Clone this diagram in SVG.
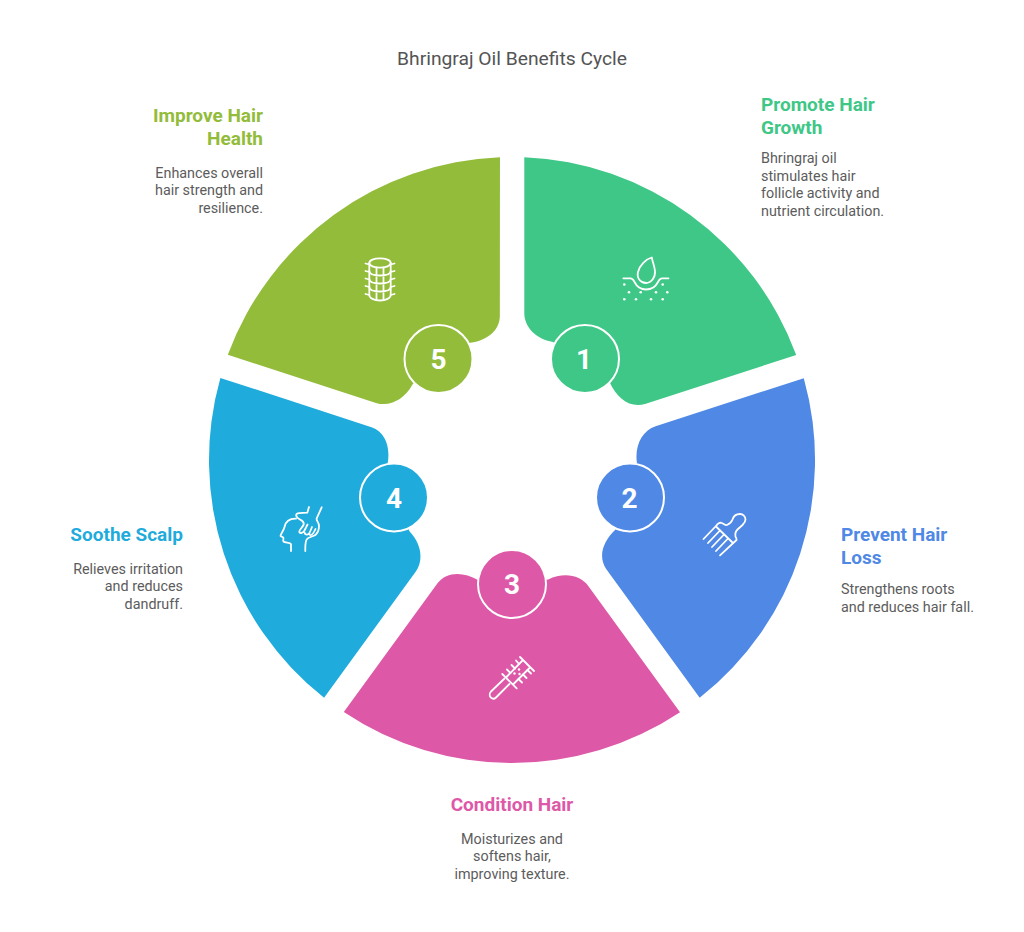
<svg xmlns="http://www.w3.org/2000/svg" width="1024" height="932" viewBox="0 0 1024 932">
<style>
text{font-family:Roboto,"Liberation Sans",sans-serif}
.title{font-size:19.25px;fill:#545454;text-anchor:middle}
.h{font-size:19px;font-weight:700}
.d{font-size:14.35px;fill:#5c5c5c}
.e{text-anchor:end}.m{text-anchor:middle}
.n{font-size:28px;font-weight:700;fill:#fff;text-anchor:middle}
.ic{fill:none;stroke:#fff;stroke-width:1.8;stroke-linecap:round;stroke-linejoin:round}
.dot{fill:#fff}
.ring{stroke:#fff;stroke-width:2}
</style>
<defs>
<path id="seg" d="M524.3 157.2A303 303 0 0 1 796.2 355L645 404C630 408.500 617 398 610 383L584 359L553 342C536 339 524.300 327 524.300 313Z"/>
</defs>
<rect width="1024" height="932" fill="#fff"/>
<text class="title" x="512" y="65">Bhringraj Oil Benefits Cycle</text>
<g id="connectors"/>
<g id="node1">
<use href="#seg" fill="#3ec786"/>
<circle class="ring" cx="585" cy="359" r="34" fill="#3ec786"/>
<text class="n" x="584" y="369">1</text>
<g class="ic"><path d="M623.300 278.300H630.500C633 278.300 633.500 280 634.500 282C636.500 286 640 289.500 646 289.500C652 289.500 656 286 658 282C659 280 659.500 278.300 662 278.300H668.500"/><path d="M651.800 257.500C652.500 262 654.500 266 655 271C655.500 277 651.500 283 646 283C640.500 283 636.500 278 638 272C639.500 265.500 646 259 651.800 257.500Z"/></g>
<g class="dot"><circle cx="624.300" cy="284.500" r="1.300"/><circle cx="662.700" cy="284.500" r="1.300"/><circle cx="629" cy="292.300" r="1.300"/><circle cx="640.700" cy="292.300" r="1.300"/><circle cx="656" cy="292.300" r="1.300"/><circle cx="667.300" cy="292.300" r="1.300"/><circle cx="624.300" cy="299.300" r="1.300"/><circle cx="636" cy="299.300" r="1.300"/><circle cx="651" cy="299.300" r="1.300"/><circle cx="662.700" cy="299.300" r="1.300"/></g>
<text class="h" fill="#3ec786" x="761" y="110.500">Promote Hair</text>
<text class="h" fill="#3ec786" x="761" y="133.500">Growth</text>
<text class="d" x="761" y="163">Bhringraj oil</text>
<text class="d" x="761" y="180.500">stimulates hair</text>
<text class="d" x="761" y="198">follicle activity and</text>
<text class="d" x="761" y="215.500">nutrient circulation.</text>
</g>
<g id="node2">
<use href="#seg" fill="#4f88e5" transform="rotate(72 512 460)"/>
<circle class="ring" cx="630" cy="497.500" r="34" fill="#4f88e5"/>
<text class="n" x="629.500" y="507.500">2</text>
<g class="ic"><path d="M703.500 539L716 526C717.500 524 719 522.700 720.500 522.700C723 523 725 525.500 727 525C730 524 731.500 522 732.500 519.500C733.500 516 736.500 514 740 514C743 514 745.500 516.500 745.500 519.500C745.500 522 744 523.500 742.500 525L737.500 529.500C735.500 531.500 735 534 735.500 536.500C736 538 737 539 736.500 540L720 555.300"/><path d="M716 526.500L733 543M708 543L720 530.500M712 547L724 534.500M716 551L728 538.500"/></g>
<text class="h" fill="#4f88e5" x="841" y="541">Prevent Hair</text>
<text class="h" fill="#4f88e5" x="841" y="564">Loss</text>
<text class="d" x="841" y="594">Strengthens roots</text>
<text class="d" x="841" y="611.500">and reduces hair fall.</text>
</g>
<g id="node3">
<use href="#seg" fill="#de58a8" transform="rotate(144 512 460)"/>
<circle class="ring" cx="512" cy="584" r="34" fill="#de58a8"/>
<text class="n" x="512" y="594">3</text>
<g class="ic"><path d="M504.500 678.500L491 691.500C489.300 693.300 489.300 696 491 697.700C492.700 699.300 494.500 699 496 697.500L509.500 684"/><path d="M502.300 674L516.700 688.300M520 657L534 671M506 677.500L522.500 660.500M513 684.500L530 667.500"/><path d="M510.500 673L507 669.500M515 668.500L511.500 665M519 664L516 660.500M518.500 679L522 682.500M523 674.500L526.500 678M527.500 670L531 673.500"/></g>
<g class="dot"><circle cx="514.500" cy="673.500" r="1.200"/><circle cx="519" cy="669.500" r="1.200"/><circle cx="519.500" cy="674" r="1.200"/></g>
<text class="h m" fill="#de58a8" x="512" y="811">Condition Hair</text>
<text class="d m" x="512" y="843.500">Moisturizes and</text>
<text class="d m" x="512" y="861">softens hair,</text>
<text class="d m" x="512" y="878.500">improving texture.</text>
</g>
<g id="node4">
<use href="#seg" fill="#1fabdc" transform="rotate(216 512 460)"/>
<circle class="ring" cx="394" cy="497.500" r="34" fill="#1fabdc"/>
<text class="n" x="394" y="507.500">4</text>
<g class="ic"><path d="M291 551V544.500C291 542.500 285 543 283.500 541.500C282.500 540.500 284 538.500 283.300 537.500L280.500 536C281 533 283.500 531 284.500 527C285.500 522 289 518.500 296 518.700"/><path d="M309 507L307.300 512.700C303 513 299 512.500 297.300 513.500C295 515 296.500 517.500 300 519.500C303 521 304.500 522.500 303.500 525C302 528 299 530 299.300 532C300.500 534 303 533 304.500 530.500L307.500 524.500M304.500 532.500C305 535 308 535.500 309.500 533L312 527M310 535C312 535.500 313.500 533.500 315.500 529"/><path d="M321.700 507.300L316.700 518.300C316 521 319 522 319 526C319 530 317 534 314.500 535.500C311.500 537 308.500 537 307 539C305 541.500 305.300 545 305.300 551"/></g>
<text class="h e" fill="#1fabdc" x="183" y="541">Soothe Scalp</text>
<text class="d e" x="183" y="573.500">Relieves irritation</text>
<text class="d e" x="183" y="591">and reduces</text>
<text class="d e" x="183" y="608.500">dandruff.</text>
</g>
<g id="node5">
<use href="#seg" fill="#92bc3a" transform="rotate(288 512 460)"/>
<circle class="ring" cx="438.500" cy="359" r="34" fill="#92bc3a"/>
<text class="n" x="438.500" y="369">5</text>
<g class="ic"><ellipse cx="380" cy="263" rx="10.700" ry="4.700"/><path d="M369.300 263V295C369.300 298 374 300.500 380 300.500C386 300.500 390.700 298 390.700 295V263"/><path d="M369.300 271C369.300 274 374 275.500 380 275.500C386 275.500 390.700 274 390.700 271M369.300 279C369.300 282 374 283.500 380 283.500C386 283.500 390.700 282 390.700 279M369.300 287C369.300 290 374 291.500 380 291.500C386 291.500 390.700 290 390.700 287M376.500 267.500V300M383.500 267.500V300M365.500 263.500L369.300 264.500M365.500 271L369.300 272M365.500 278.500L369.300 279.500M365.500 286L369.300 287M365.500 294L369.300 295M394.500 263.500L390.700 264.500M394.500 271L390.700 272M394.500 278.500L390.700 279.500M394.500 286L390.700 287M394.500 294L390.700 295"/></g>
<text class="h e" fill="#92bc3a" x="263" y="122">Improve Hair</text>
<text class="h e" fill="#92bc3a" x="263" y="145">Health</text>
<text class="d e" x="263" y="177.500">Enhances overall</text>
<text class="d e" x="263" y="195">hair strength and</text>
<text class="d e" x="263" y="212.500">resilience.</text>
</g>
</svg>
